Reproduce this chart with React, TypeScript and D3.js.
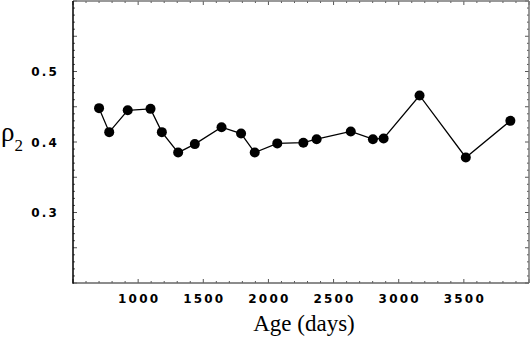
import React, { useRef, useEffect } from 'react';
import * as d3 from 'd3';

// age in days and rho_2
const ages = [700, 778, 920, 1095, 1182, 1307, 1435, 1640, 1790, 1895, 2068, 2268, 2370, 2632, 2802, 2884, 3160, 3515, 3857];
const rho2 = [0.448, 0.414, 0.445, 0.447, 0.414, 0.385, 0.397, 0.421, 0.412, 0.385, 0.398, 0.399, 0.404, 0.415, 0.404, 0.405, 0.466, 0.378, 0.430];

const xLabels = [1000, 1500, 2000, 2500, 3000, 3500];
const yLabels = [0.3, 0.4, 0.5];

const App = () => {
  const svgRef = useRef<SVGSVGElement>(null);
  const width = 531;
  const height = 337;
  const margin = { top: 1, right: 2, bottom: 54, left: 73 };

  useEffect(() => {
    const svg = d3.select(svgRef.current);
    svg.selectAll('*').remove();

    const x = d3.scaleLinear().domain([500, 4000]).range([margin.left, width - margin.right]);
    const y = d3.scaleLinear().domain([0.2, 0.6]).range([height - margin.bottom, margin.top]);
    const [x0, x1] = x.range();
    const [y0, y1] = y.range();

    const g = svg.append('g');

    // ticks on all four sides, pointing inward
    const xMinor = d3.range(500, 4001, 100);
    const yMinor = d3.range(0.2, 0.6001, 0.01);
    const isMajorX = (v: number) => Math.abs(v % 500) < 1e-6;
    const isMajorY = (v: number) => Math.abs(Math.round(v * 100) % 5) < 1e-6;

    xMinor.forEach((v) => {
      const len = isMajorX(v) ? 4 : 2;
      g.append('line').attr('x1', x(v)).attr('x2', x(v)).attr('y1', y0).attr('y2', y0 - len)
        .attr('stroke', '#555').attr('stroke-width', 1);
      g.append('line').attr('x1', x(v)).attr('x2', x(v)).attr('y1', y1).attr('y2', y1 + len)
        .attr('stroke', '#555').attr('stroke-width', 1);
    });
    yMinor.forEach((v) => {
      const len = isMajorY(v) ? 4 : 2;
      g.append('line').attr('x1', x0).attr('x2', x0 + len).attr('y1', y(v)).attr('y2', y(v))
        .attr('stroke', '#555').attr('stroke-width', 1);
      g.append('line').attr('x1', x1).attr('x2', x1 - len).attr('y1', y(v)).attr('y2', y(v))
        .attr('stroke', '#555').attr('stroke-width', 1);
    });

    // frame
    g.append('line').attr('x1', x0).attr('x2', x1).attr('y1', y1).attr('y2', y1).attr('stroke', '#777').attr('stroke-width', 1.5);
    g.append('line').attr('x1', x1).attr('x2', x1).attr('y1', y0).attr('y2', y1).attr('stroke', '#777').attr('stroke-width', 1.5);
    g.append('line').attr('x1', x0).attr('x2', x1).attr('y1', y0).attr('y2', y0).attr('stroke', '#666').attr('stroke-width', 1.5);
    g.append('line').attr('x1', x0).attr('x2', x0).attr('y1', y0 + 0.75).attr('y2', y1).attr('stroke', '#000').attr('stroke-width', 1.5);

    // tick labels
    g.selectAll('.xl').data(xLabels).enter().append('text')
      .attr('x', (d) => x(d) + 1).attr('y', 303)
      .attr('text-anchor', 'middle')
      .attr('font-family', 'DejaVu Sans').attr('font-weight', 'bold').attr('font-size', 12)
      .attr('letter-spacing', 2.2)
      .text((d) => d);
    g.selectAll('.yl').data(yLabels).enter().append('text')
      .attr('x', 59).attr('y', (d) => y(d) + 4.5)
      .attr('text-anchor', 'end')
      .attr('font-family', 'DejaVu Sans').attr('font-weight', 'bold').attr('font-size', 12)
      .attr('letter-spacing', 2.2)
      .text((d) => d.toFixed(1));

    // axis titles
    g.append('text').attr('x', 304).attr('y', 331).attr('text-anchor', 'middle')
      .attr('font-family', 'Liberation Serif').attr('font-size', 23)
      .text('Age (days)');
    const rho = g.append('text').attr('x', 1).attr('y', 141)
      .attr('font-family', 'Liberation Serif').attr('font-size', 27);
    rho.append('tspan').text('ρ');
    rho.append('tspan').attr('font-size', 17).attr('dy', 10).text('2');

    // data
    const pts = ages.map((a, i) => [a, rho2[i]] as [number, number]);
    const line = d3.line<[number, number]>().x((d) => x(d[0])).y((d) => y(d[1]));
    g.append('path').datum(pts).attr('d', line).attr('fill', 'none')
      .attr('stroke', '#000').attr('stroke-width', 1.3);
    g.selectAll('circle').data(pts).enter().append('circle')
      .attr('cx', (d) => x(d[0])).attr('cy', (d) => y(d[1])).attr('r', 5)
      .attr('fill', '#000');
  }, []);

  return (
    <svg ref={svgRef} width={width} height={height}
      style={{ position: 'absolute', left: 0, top: 0, background: '#fff' }} />
  );
};

export default App;
